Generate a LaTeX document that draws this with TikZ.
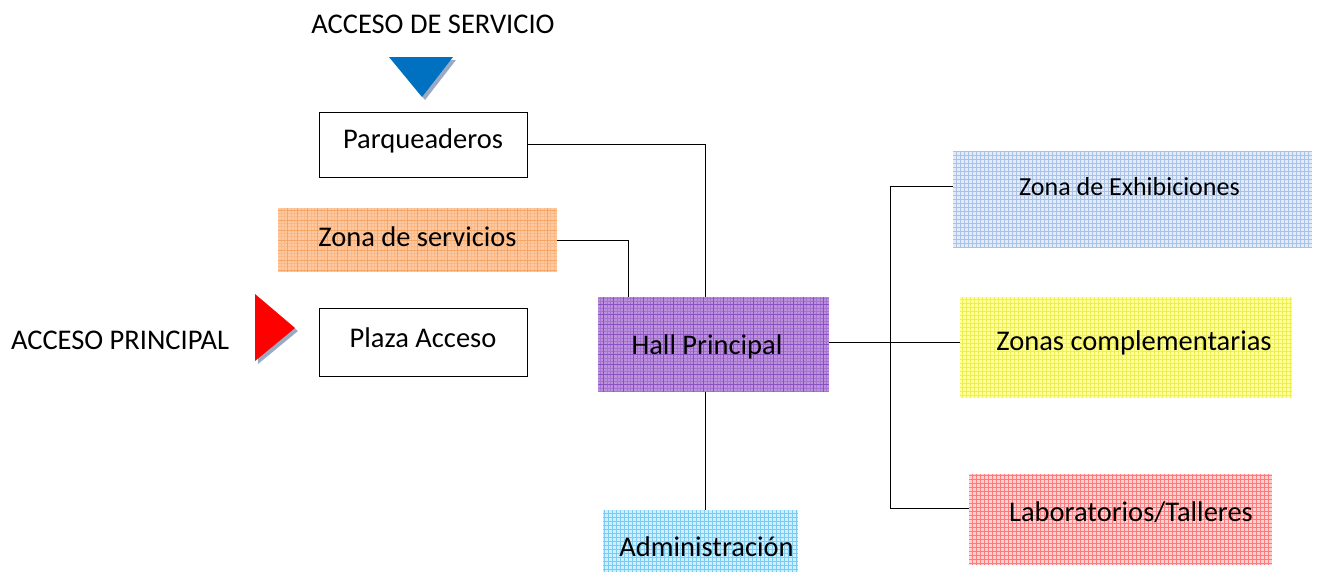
\documentclass[tikz,border=0pt]{standalone}
\usepackage{fontspec}
\setmainfont{Carlito}
\usetikzlibrary{calc}
\definecolor{orfill}{HTML}{FCC9A2}
\definecolor{orline}{HTML}{F7A565}
\definecolor{pufill}{HTML}{BC93DA}
\definecolor{puline}{HTML}{8A4FC3}
\definecolor{blfill}{HTML}{E2EBF7}
\definecolor{blline}{HTML}{A9C3E8}
\definecolor{yefill}{HTML}{FFFF9C}
\definecolor{yeline}{HTML}{EEEE55}
\definecolor{rdfill}{HTML}{FFD0D0}
\definecolor{rdline}{HTML}{FF7B7B}
\definecolor{cyfill}{HTML}{D0EEFF}
\definecolor{cyline}{HTML}{7ACDF2}
\definecolor{shadowc}{HTML}{9AAAC4}
\definecolor{triblue}{HTML}{0070C0}
\begin{document}
\begin{tikzpicture}[x=1pt,y=-1pt,
  every node/.style={font=\fontsize{28.5}{34}\selectfont, inner sep=0pt},
  every label/.style={font=\fontsize{28.5}{34}\selectfont, inner sep=0pt},
  plainbox/.style={draw=black, line width=0.9pt, fill=white},
  finegrid/.style n args={2}{fill=#1, path picture={\draw[#2, line width=0.6pt, step=4pt] (path picture bounding box.south west) grid (path picture bounding box.north east);}},
  coarsegrid/.style n args={2}{fill=#1, path picture={
     \draw[#2!45!#1, line width=0.5pt, step=3.33pt] (path picture bounding box.south west) grid (path picture bounding box.north east);
     \draw[#2, line width=0.9pt, step=10pt] (path picture bounding box.south west) grid (path picture bounding box.north east);}},
  conn/.style={draw=black, line width=0.9pt}]
\useasboundingbox (0,0) rectangle (1318,574);

% access labels and triangles
\node (accserv) at (433,24) {ACCESO DE SERVICIO};
\node (accprin) at (120,340) {ACCESO PRINCIPAL};
\fill[shadowc] (392,60) -- (456,60) -- (425,100) -- cycle;
\fill[triblue] (389,57) -- (453,57) -- (422,97) -- cycle;
\fill[shadowc] (258,297) -- (298,331) -- (258,364) -- cycle;
\fill[red] (255,294) -- (295,328) -- (255,361) -- cycle;

% boxes
\node[plainbox, minimum width=208pt, minimum height=65pt,
  label={[yshift=4pt]center:Parqueaderos}] (parq) at (423,144.5) {};
\node[coarsegrid={orfill}{orline}, minimum width=279pt, minimum height=64pt,
  label={[yshift=3pt]center:Zona de servicios}] (serv) at (417.5,240) {};
\node[plainbox, minimum width=208pt, minimum height=68pt,
  label={[yshift=4pt]center:Plaza Acceso}] (plaza) at (423,342) {};
\node[coarsegrid={pufill}{puline}, minimum width=231pt, minimum height=95pt,
  label={[xshift=-6.5pt, yshift=-2.5pt]center:Hall Principal}] (hall) at (713.5,344.5) {};
\node[finegrid={blfill}{blline}, minimum width=359pt, minimum height=97pt,
  label={[xshift=-3pt, yshift=12.5pt, font=\fontsize{26}{32}\selectfont]center:Zona de Exhibiciones}] (exh) at (1132.5,199.5) {};
\node[finegrid={yefill}{yeline}, minimum width=332pt, minimum height=101pt,
  label={[xshift=8pt, yshift=4.5pt]center:Zonas complementarias}] (comp) at (1126,347.5) {};
\node[finegrid={rdfill}{rdline}, minimum width=303pt, minimum height=91pt,
  label={[xshift=10.5pt, yshift=7.5pt]center:Laboratorios/Talleres}] (lab) at (1120.5,519.5) {};
\node[finegrid={cyfill}{cyline}, minimum width=195pt, minimum height=62pt,
  label={[xshift=6pt, yshift=-6pt]center:Administración}] (adm) at (700.5,541) {};

% connectors
\draw[conn] (parq.east) -| ($(hall.north west)+(108,0)$);
\draw[conn] (serv.east) -| ($(hall.north west)+(31,0)$);
\draw[conn] ($(hall.south west)+(108,0)$) coordinate (hb) -- (hb |- adm.north);
\draw[conn] ($(hall.east)+(0,-2)$) coordinate (he) -- (he -| comp.west);
\coordinate (jt) at (890,186);
\coordinate (jb) at (890,508);
\draw[conn] (jt -| exh.west) -- (jt) -- (jb) -- (jb -| lab.west);
\end{tikzpicture}
\end{document}
